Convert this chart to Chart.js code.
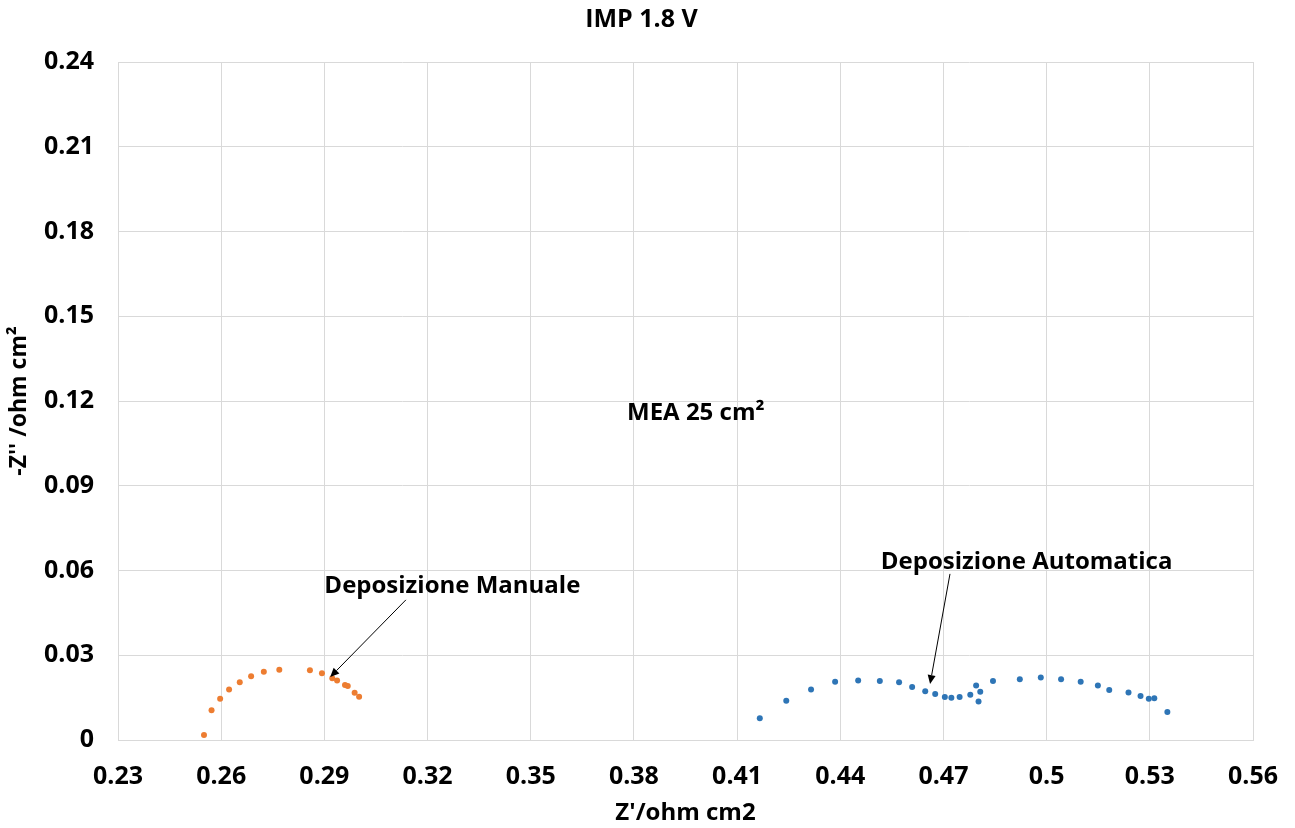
<!DOCTYPE html>
<html>
<head>
<meta charset="utf-8">
<script src="https://cdn.jsdelivr.net/npm/chart.js@4/dist/chart.umd.min.js"></script>
<style>
html,body{margin:0;padding:0;background:#fff;}
#wrap{width:1295px;height:828px;}
</style>
</head>
<body>
<div id="wrap"><canvas id="c" width="1295" height="828"></canvas></div>
<script>
const manualX = [0.2550,0.2572,0.2597,0.2623,0.2654,0.2687,0.2724,0.2769,0.2858,0.2893,0.2923,0.2937,0.2960,0.2968,0.2988,0.3001];
const manualY = [0.0018,0.0105,0.0146,0.0179,0.0204,0.0226,0.0242,0.0249,0.0247,0.0236,0.0219,0.0211,0.0195,0.0191,0.0167,0.0153];
const autoX = [0.4166,0.4243,0.4315,0.4385,0.4452,0.4515,0.4571,0.4609,0.4647,0.4676,0.4704,0.4723,0.4747,0.4778,0.4795,0.4807,0.4802,0.4844,0.4922,0.4983,0.5042,0.5099,0.5149,0.5182,0.5238,0.5273,0.5297,0.5313,0.5351];
const autoY = [0.0077,0.0139,0.0179,0.0206,0.0211,0.0209,0.0204,0.0188,0.0173,0.0163,0.0152,0.0150,0.0152,0.0160,0.0193,0.0171,0.0136,0.0209,0.0215,0.0221,0.0215,0.0206,0.0193,0.0177,0.0168,0.0156,0.0146,0.0148,0.0099];
const xTicks = [0.23,0.26,0.29,0.32,0.35,0.38,0.41,0.44,0.47,0.5,0.53,0.56];
const yTicks = [0,0.03,0.06,0.09,0.12,0.15,0.18,0.21,0.24];

const annotations = [
  {text:'Deposizione Manuale', x:0.29, y:0.0545},
  {text:'Deposizione Automatica', x:0.4518, y:0.063},
  {text:'MEA 25 cm\u00B2', x:0.378, y:0.1157}
];
const arrows = [
  {x1:0.3137, y1:0.0496, x2:0.2917, y2:0.0223},
  {x1:0.4719, y1:0.0588, x2:0.4661, y2:0.0198}
];

const toPts = (xs, ys) => xs.map((x, i) => ({x: x, y: ys[i]}));
const FONT = "'Open Sans', 'Liberation Sans', sans-serif";

const annotPlugin = {
  id: 'annot',
  afterDatasetsDraw(chart) {
    const {ctx, scales} = chart;
    const xs = scales.x, ys = scales.y;
    ctx.save();
    ctx.fillStyle = '#000';
    ctx.font = 'bold 24px ' + FONT;
    ctx.textBaseline = 'middle';
    ctx.textAlign = 'left';
    annotations.forEach(a => {
      ctx.fillText(a.text, xs.getPixelForValue(a.x), ys.getPixelForValue(a.y));
    });
    ctx.strokeStyle = '#000';
    ctx.lineWidth = 1;
    arrows.forEach(a => {
      const x1 = xs.getPixelForValue(a.x1), y1 = ys.getPixelForValue(a.y1);
      const x2 = xs.getPixelForValue(a.x2), y2 = ys.getPixelForValue(a.y2);
      const ang = Math.atan2(y2 - y1, x2 - x1);
      const L = 9, W = 4;
      const bx = x2 - L * Math.cos(ang), by = y2 - L * Math.sin(ang);
      ctx.beginPath();
      ctx.moveTo(x1, y1);
      ctx.lineTo(bx, by);
      ctx.stroke();
      ctx.beginPath();
      ctx.moveTo(x2, y2);
      ctx.lineTo(bx + W * Math.sin(ang), by - W * Math.cos(ang));
      ctx.lineTo(bx - W * Math.sin(ang), by + W * Math.cos(ang));
      ctx.closePath();
      ctx.fillStyle = '#000';
      ctx.fill();
    });
    ctx.restore();
  }
};

new Chart(document.getElementById('c'), {
  type: 'scatter',
  data: {
    datasets: [
      {label: 'Deposizione Automatica', data: toPts(autoX, autoY), backgroundColor: '#2E75B6', borderColor: '#2E75B6', pointRadius: 3, pointBorderWidth: 0},
      {label: 'Deposizione Manuale', data: toPts(manualX, manualY), backgroundColor: '#ED7D31', borderColor: '#ED7D31', pointRadius: 3, pointBorderWidth: 0}
    ]
  },
  options: {
    responsive: false,
    animation: false,
    layout: {padding: {left: 0, right: 12, top: 0, bottom: 0}},
    plugins: {
      legend: {display: false},
      tooltip: {enabled: false},
      title: {display: true, text: 'IMP 1.8 V', color: '#000', font: {family: FONT, size: 25, weight: 'bold', lineHeight: 1.2}, padding: {top: 5, bottom: 27}}
    },
    scales: {
      x: {
        type: 'linear', min: 0.23, max: 0.56,
        afterBuildTicks: s => { s.ticks = xTicks.map(v => ({value: v})); },
        afterFit: s => { s.height = 88; s.paddingLeft = 0; s.paddingRight = 0; },
        ticks: {color: '#000', font: {family: FONT, size: 25, weight: 'bold'}, padding: 22, maxRotation: 0, callback: v => String(Number(v.toFixed(2)))},
        grid: {color: '#d9d9d9', drawTicks: false},
        border: {color: '#d9d9d9'},
        title: {display: true, text: "Z'/ohm cm2", color: '#000', font: {family: FONT, size: 24, weight: 'bold'}, padding: {top: 0, bottom: 0}}
      },
      y: {
        type: 'linear', min: 0, max: 0.24,
        afterBuildTicks: s => { s.ticks = yTicks.map(v => ({value: v})); },
        afterFit: s => { s.width = 118; },
        ticks: {color: '#000', font: {family: FONT, size: 25, weight: 'bold'}, padding: 24, callback: v => String(Number(v.toFixed(2)))},
        grid: {color: '#d9d9d9', drawTicks: false},
        border: {color: '#d9d9d9'},
        title: {display: true, text: "-Z'' /ohm cm\u00B2", color: '#000', font: {family: FONT, size: 23, weight: 'bold'}, padding: {top: 6, bottom: 0}}
      },
      yRight: {
        type: 'linear', position: 'right', min: 0, max: 0.24,
        afterFit: s => { s.width = 30; },
        ticks: {display: false},
        grid: {display: false, drawOnChartArea: false},
        border: {display: false},
        title: {display: false}
      }
    }
  },
  plugins: [annotPlugin]
});
</script>
</body>
</html>
